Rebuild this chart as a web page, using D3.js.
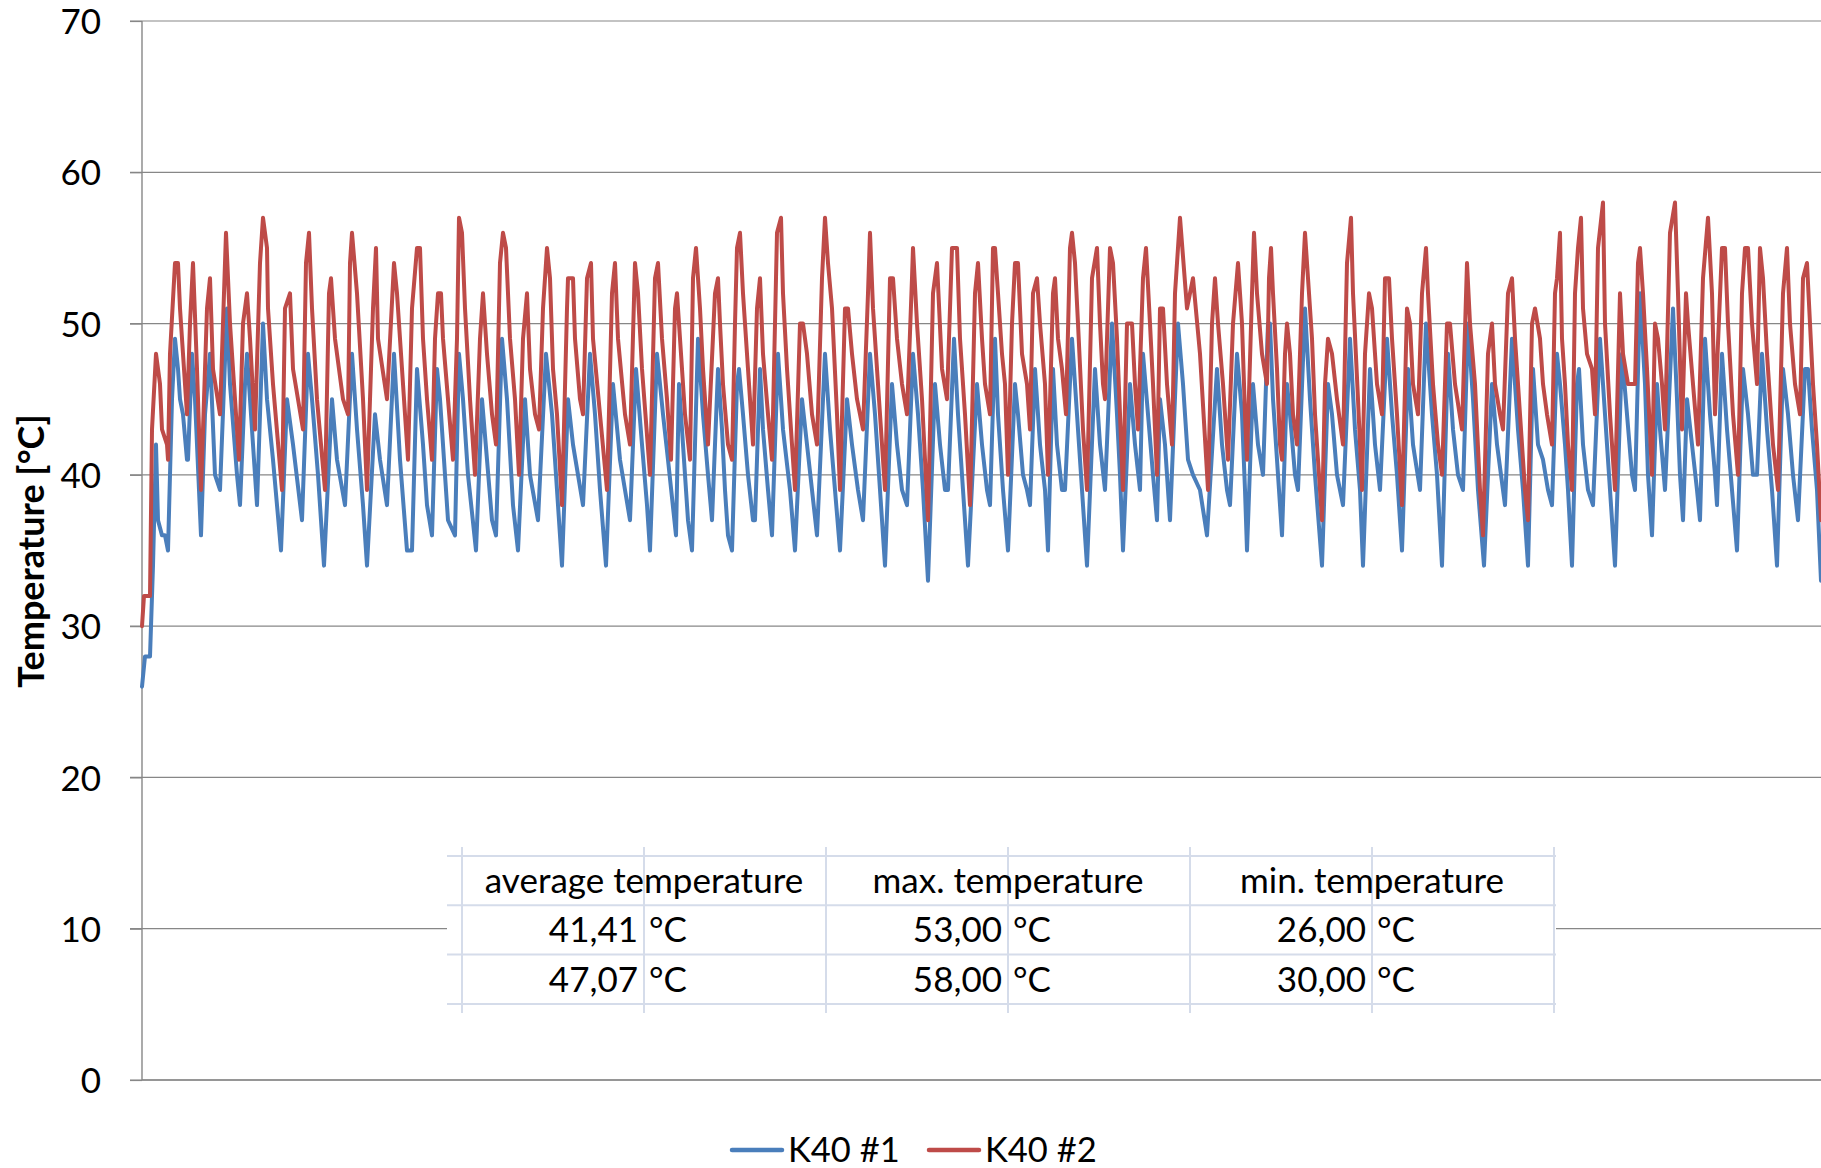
<!DOCTYPE html>
<html><head><meta charset="utf-8">
<script src="https://cdn.jsdelivr.net/npm/d3@7"></script>
<style>body{margin:0;background:#fff;} svg{display:block;font-family:Lato,"Open Sans",sans-serif;}</style>
</head><body><svg id="c" width="1821" height="1168"></svg>
<script>
// ---------- data ----------
const yTicks = [0, 10, 20, 30, 40, 50, 60, 70];
const seriesNames = ["K40 #1", "K40 #2"];
const seriesColors = ["#4A7EBB", "#BE4B48"];
// [time index (minutes), temperature °C]
const k40_1 = [[0,26],[3,28],[8,28],[11,34],[14,42],[16,37],[20,36],[23,36],[26,35],[30,45],[33,49],[36,47],[38,45],[41,44],[45,41],[46,41],[50,48],[53,45],[59,36],[63,44],[68,48],[73,40],[78,39],[85,51],[88,46],[95,40],[98,38],[103,46],[105,48],[108,45],[115,38],[121,50],[125,45],[131,41],[139,35],[145,45],[151,42],[160,37],[166,48],[170,45],[176,40],[182,34],[190,45],[195,41],[203,38],[210,48],[215,43],[221,38],[225,34],[233,44],[238,41],[245,38],[252,48],[258,41],[265,35],[270,35],[275,47],[281,42],[285,38],[290,36],[295,47],[298,45],[301,42],[306,37],[313,36],[317,48],[321,45],[326,40],[334,35],[340,45],[345,41],[350,37],[354,36],[360,49],[365,45],[371,38],[376,35],[383,45],[388,40],[396,37],[404,48],[410,44],[415,39],[420,34],[426,45],[431,42],[436,40],[441,38],[448,48],[453,44],[458,39],[464,34],[471,46],[478,41],[483,39],[488,37],[494,47],[500,42],[505,38],[508,35],[515,48],[521,44],[526,41],[534,36],[537,46],[541,42],[546,37],[550,35],[556,49],[561,44],[566,40],[570,37],[576,47],[580,43],[583,39],[586,36],[590,35],[595,46],[597,47],[601,44],[606,40],[611,37],[613,37],[618,47],[621,43],[626,39],[630,36],[636,48],[641,43],[648,39],[653,35],[660,45],[665,42],[670,39],[675,36],[683,48],[688,43],[693,39],[698,35],[705,45],[710,42],[716,39],[721,37],[728,48],[733,44],[738,39],[743,34],[750,46],[755,42],[760,39],[765,38],[771,48],[776,44],[781,39],[786,33],[793,46],[798,42],[803,39],[806,39],[812,49],[816,44],[821,39],[826,34],[835,46],[840,42],[845,39],[848,38],[853,49],[856,44],[861,39],[866,35],[873,46],[876,44],[881,40],[885,39],[888,38],[893,47],[898,42],[903,39],[906,35],[911,47],[915,42],[920,39],[923,39],[930,49],[935,44],[940,39],[945,34],[953,47],[958,42],[963,39],[970,50],[975,44],[978,40],[981,35],[988,46],[993,42],[998,39],[1001,48],[1006,44],[1011,40],[1015,37],[1018,45],[1023,42],[1028,37],[1036,50],[1041,46],[1046,41],[1051,40],[1058,39],[1065,36],[1075,47],[1080,42],[1085,39],[1088,38],[1095,48],[1100,44],[1103,39],[1105,35],[1111,46],[1116,42],[1121,40],[1126,50],[1128,50],[1131,45],[1135,41],[1140,36],[1145,46],[1148,44],[1153,40],[1156,39],[1163,51],[1168,45],[1173,40],[1180,34],[1186,46],[1190,44],[1195,40],[1201,38],[1208,49],[1213,43],[1218,39],[1221,34],[1228,47],[1233,42],[1238,39],[1245,49],[1250,44],[1255,40],[1260,35],[1266,47],[1271,42],[1278,39],[1284,50],[1290,44],[1295,40],[1300,34],[1306,48],[1311,43],[1316,40],[1321,39],[1326,50],[1331,45],[1336,39],[1342,34],[1350,46],[1355,42],[1363,38],[1370,49],[1376,43],[1381,39],[1386,34],[1391,47],[1396,42],[1401,41],[1406,39],[1410,38],[1415,48],[1418,46],[1423,42],[1426,39],[1430,34],[1435,46],[1437,47],[1441,42],[1446,39],[1451,38],[1458,49],[1463,44],[1468,39],[1473,34],[1480,48],[1485,44],[1490,40],[1493,39],[1498,52],[1503,46],[1506,40],[1510,36],[1515,46],[1518,43],[1523,39],[1531,51],[1535,45],[1538,40],[1541,37],[1545,45],[1550,42],[1555,39],[1558,37],[1563,49],[1568,44],[1573,40],[1575,38],[1580,48],[1585,43],[1590,39],[1595,35],[1601,47],[1606,44],[1611,40],[1615,40],[1620,48],[1625,43],[1630,39],[1635,34],[1641,47],[1646,44],[1651,40],[1656,37],[1663,47],[1666,47],[1670,43],[1675,39],[1679,33]];
const k40_2 = [[0,30],[2,32],[8,32],[10,43],[14,48],[18,46],[20,43],[25,42],[26,41],[28,48],[33,54],[36,54],[38,51],[45,44],[48,50],[51,54],[55,47],[59,39],[65,51],[68,53],[71,47],[78,44],[84,56],[88,50],[93,45],[97,41],[101,50],[105,52],[108,49],[113,43],[118,54],[121,57],[125,55],[126,51],[131,46],[140,39],[143,51],[148,52],[151,47],[161,43],[164,54],[167,56],[170,51],[175,45],[183,39],[187,52],[189,53],[193,49],[201,45],[206,44],[208,54],[210,56],[215,52],[221,45],[225,39],[231,51],[234,55],[236,49],[245,45],[252,54],[255,52],[260,47],[266,41],[270,51],[275,55],[278,55],[281,49],[285,45],[290,41],[293,49],[296,52],[299,52],[301,49],[306,45],[311,41],[315,49],[317,57],[320,56],[323,51],[328,45],[333,40],[338,49],[341,52],[345,48],[350,44],[354,42],[358,54],[361,56],[364,55],[368,49],[373,45],[377,40],[381,49],[385,52],[388,47],[393,44],[397,43],[401,51],[405,55],[408,53],[411,47],[415,44],[420,38],[425,51],[426,53],[431,53],[433,49],[438,45],[441,44],[445,53],[449,54],[451,49],[458,44],[465,39],[470,52],[473,54],[476,49],[483,44],[488,42],[493,54],[496,52],[500,47],[508,40],[513,53],[516,54],[520,49],[525,45],[529,41],[533,51],[535,52],[538,49],[543,44],[548,41],[551,53],[554,55],[558,51],[561,47],[566,42],[573,52],[576,53],[578,50],[581,46],[586,42],[590,41],[593,50],[595,55],[598,56],[601,52],[606,47],[611,42],[615,51],[618,53],[621,48],[626,44],[630,41],[635,56],[639,57],[641,52],[645,47],[650,42],[653,39],[658,50],[661,50],[665,48],[670,44],[675,42],[680,53],[683,57],[686,54],[690,51],[695,44],[698,39],[703,51],[706,51],[710,48],[715,45],[721,43],[726,52],[728,56],[731,51],[736,46],[743,39],[748,53],[751,53],[755,49],[760,46],[765,44],[770,53],[771,55],[775,50],[780,45],[786,37],[791,52],[795,54],[800,47],[805,45],[810,55],[815,55],[818,49],[823,44],[828,38],[833,52],[836,54],[840,49],[843,46],[848,44],[851,55],[853,55],[856,52],[860,48],[863,46],[866,40],[870,50],[873,54],[876,54],[880,48],[885,46],[888,43],[891,52],[895,53],[898,50],[903,46],[906,40],[911,52],[913,53],[916,49],[920,47],[924,44],[928,55],[930,56],[933,54],[936,50],[941,43],[945,39],[950,53],[955,55],[958,50],[961,46],[963,45],[968,55],[971,54],[975,49],[978,44],[981,39],[985,50],[990,50],[993,46],[996,43],[1001,53],[1004,55],[1008,50],[1011,46],[1015,40],[1018,51],[1021,51],[1025,46],[1030,42],[1033,52],[1038,57],[1045,51],[1051,53],[1058,48],[1066,39],[1070,50],[1073,53],[1076,50],[1081,46],[1086,41],[1091,50],[1096,54],[1100,50],[1103,44],[1105,41],[1110,52],[1112,56],[1115,52],[1120,48],[1125,46],[1127,53],[1129,55],[1131,52],[1135,47],[1138,42],[1140,41],[1143,48],[1145,50],[1148,48],[1151,44],[1155,42],[1160,52],[1163,56],[1166,53],[1170,49],[1173,44],[1178,39],[1180,37],[1183,46],[1186,49],[1190,48],[1195,45],[1201,42],[1205,54],[1209,57],[1211,52],[1216,45],[1220,39],[1223,48],[1227,52],[1230,51],[1235,46],[1240,44],[1243,53],[1247,53],[1250,49],[1255,44],[1260,38],[1265,51],[1268,50],[1271,46],[1276,44],[1280,52],[1284,55],[1286,52],[1291,46],[1296,42],[1300,40],[1305,50],[1308,50],[1313,46],[1320,43],[1325,54],[1328,50],[1333,46],[1338,39],[1341,36],[1346,48],[1350,50],[1353,46],[1358,44],[1361,43],[1366,52],[1370,53],[1373,49],[1378,44],[1383,39],[1386,37],[1390,50],[1393,51],[1398,49],[1401,46],[1405,44],[1410,42],[1413,52],[1415,53],[1418,56],[1420,49],[1423,46],[1426,42],[1430,39],[1433,52],[1436,55],[1439,57],[1441,51],[1445,48],[1450,47],[1453,44],[1456,55],[1461,58],[1463,50],[1468,44],[1473,39],[1478,52],[1481,48],[1486,46],[1493,46],[1496,54],[1498,55],[1501,52],[1505,47],[1510,40],[1513,50],[1516,49],[1520,46],[1523,43],[1528,56],[1533,58],[1536,52],[1540,43],[1544,52],[1546,50],[1551,46],[1556,42],[1561,53],[1566,57],[1570,52],[1573,44],[1580,55],[1583,55],[1586,50],[1591,44],[1596,40],[1600,52],[1603,55],[1606,55],[1610,50],[1615,46],[1618,55],[1621,53],[1625,48],[1631,42],[1636,39],[1641,52],[1645,55],[1648,50],[1653,46],[1658,44],[1661,53],[1665,54],[1668,50],[1671,46],[1675,42],[1679,37]];
const tableHeaders = ["average temperature", "max. temperature", "min. temperature"];
const tableRow1 = ["41,41", "53,00", "26,00"];
const tableRow2 = ["47,07", "58,00", "30,00"];
const unitLabel = "°C";
const yTitle = "Temperature [°C]";

// ---------- layout ----------
const m = {left: 142, right: 1821, top: 21, bottom: 1080};
const svg = d3.select("#c");
const x = d3.scaleLinear().domain([0, 1679]).range([m.left, m.right]);
const y = d3.scaleLinear().domain([0, 70]).range([m.bottom, m.top]);
const gridCol = "#878787";

// gridlines (with outside tick marks)
svg.append("g").selectAll("line").data(yTicks).join("line")
  .attr("x1", m.left - 12).attr("x2", m.right)
  .attr("y1", d => y(d)).attr("y2", d => y(d))
  .attr("stroke", gridCol).attr("stroke-width", 1.2);

// y axis labels via d3 axis
const yAxis = svg.append("g").attr("transform", `translate(${m.left},0)`)
  .call(d3.axisLeft(y).tickValues(yTicks).tickSize(12).tickPadding(29).tickFormat(d3.format("d")));
yAxis.select(".domain").remove();
yAxis.selectAll(".tick line").attr("stroke", gridCol).attr("stroke-width", 1.2);
yAxis.selectAll("text").attr("font-family", "Lato, sans-serif").attr("font-size", 35).attr("fill", "#000").attr("dy", "0.36em");

// axis lines
svg.append("line").attr("x1", m.left).attr("x2", m.left).attr("y1", m.top).attr("y2", m.bottom)
  .attr("stroke", gridCol).attr("stroke-width", 1.4);
svg.append("line").attr("x1", m.left).attr("x2", m.right).attr("y1", m.bottom).attr("y2", m.bottom)
  .attr("stroke", gridCol).attr("stroke-width", 1.4);

// y title
svg.append("text").attr("transform", `translate(44,551) rotate(-90)`)
  .attr("text-anchor", "middle").attr("font-weight", "bold").attr("font-size", 36)
  .attr("fill", "#000").text(yTitle);

// series
const line = d3.line().x(d => x(d[0])).y(d => y(d[1])).curve(d3.curveLinear);
[k40_1, k40_2].forEach((s, i) => {
  svg.append("path").datum(s).attr("d", line).attr("fill", "none")
    .attr("stroke", seriesColors[i]).attr("stroke-width", 4)
    .attr("stroke-linejoin", "round").attr("stroke-linecap", "round");
});

// data table
const tbl = {x0: 462, x1: 1554, y0: 856, rowH: 49.3, ext: 9};
const tg = svg.append("g");
const colBand = d3.scaleBand().domain(d3.range(tableHeaders.length)).range([tbl.x0, tbl.x1]);
const cw = colBand.bandwidth();
tg.append("rect").attr("x", tbl.x0 - 15).attr("y", tbl.y0 - tbl.ext)
  .attr("width", tbl.x1 - tbl.x0 + 17).attr("height", tbl.rowH * 3 + tbl.ext * 2).attr("fill", "#fff");
const tblCol = "#D5DCEA";
d3.range(4).forEach(r => {
  tg.append("line").attr("x1", tbl.x0 - 15).attr("x2", tbl.x1 + 2)
    .attr("y1", tbl.y0 + r * tbl.rowH).attr("y2", tbl.y0 + r * tbl.rowH)
    .attr("stroke", tblCol).attr("stroke-width", 2);
});
const vx = [tbl.x0];
tableHeaders.forEach((h, i) => { vx.push(colBand(i) + cw / 2); vx.push(colBand(i) + cw); });
vx.forEach(v => {
  tg.append("line").attr("x1", v).attr("x2", v)
    .attr("y1", tbl.y0 - tbl.ext).attr("y2", tbl.y0 + 3 * tbl.rowH + tbl.ext)
    .attr("stroke", tblCol).attr("stroke-width", 2);
});
const fs = 35;
tableHeaders.forEach((h, i) => {
  tg.append("text").attr("x", colBand(i) + cw / 2).attr("y", tbl.y0 + tbl.rowH * 0.5)
    .attr("dy", "0.35em").attr("text-anchor", "middle").attr("font-size", fs).attr("fill", "#000").text(h);
  [tableRow1, tableRow2].forEach((row, r) => {
    const cy = tbl.y0 + tbl.rowH * (r + 1.5);
    tg.append("text").attr("x", colBand(i) + cw / 2 - 6).attr("y", cy).attr("dy", "0.35em")
      .attr("text-anchor", "end").attr("font-size", fs).attr("fill", "#000").text(row[i]);
    tg.append("text").attr("x", colBand(i) + cw / 2 + 5).attr("y", cy).attr("dy", "0.35em")
      .attr("text-anchor", "start").attr("font-size", fs).attr("fill", "#000").text(unitLabel);
  });
});

// legend
const lg = svg.append("g");
const legX = [732, 929];
seriesNames.forEach((n, i) => {
  lg.append("line").attr("x1", legX[i]).attr("x2", legX[i] + 50).attr("y1", 1150).attr("y2", 1150)
    .attr("stroke", seriesColors[i]).attr("stroke-width", 4.5).attr("stroke-linecap", "round");
  lg.append("text").attr("x", legX[i] + 56).attr("y", 1150).attr("dy", "0.35em")
    .attr("font-size", 34.5).attr("fill", "#000").text(n);
});
</script></body></html>
